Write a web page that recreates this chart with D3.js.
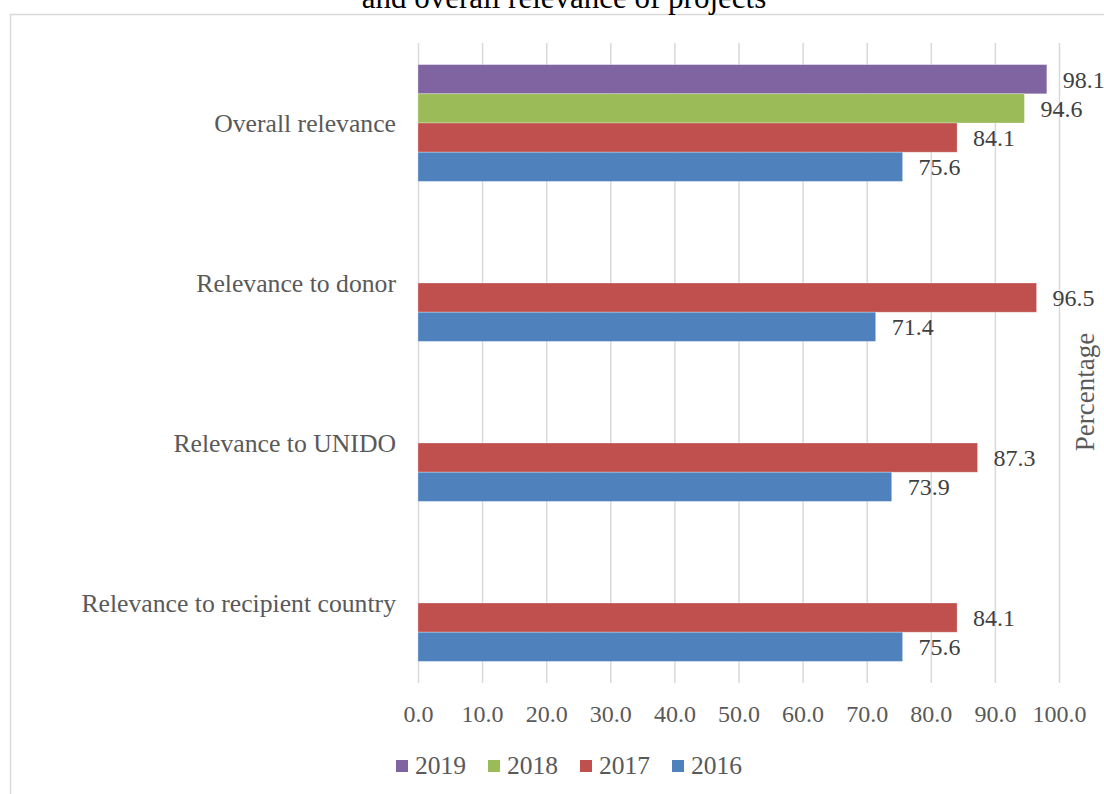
<!DOCTYPE html>
<html>
<head>
<meta charset="utf-8">
<script src="https://cdn.jsdelivr.net/npm/d3@7"></script>
<style>
  body { margin: 0; background: #fff; }
  svg { display: block; font-family: "Liberation Serif", "Times New Roman", serif; }
</style>
</head>
<body>
<div id="chart"></div>
<script>
// relevance ratings per category and year
const categories = ["Overall relevance", "Relevance to donor", "Relevance to UNIDO", "Relevance to recipient country"];
const years = ["2019", "2018", "2017", "2016"];
const values2019 = [98.1, null, null, null];
const values2018 = [94.6, null, null, null];
const values2017 = [84.1, 96.5, 87.3, 84.1];
const values2016 = [75.6, 71.4, 73.9, 75.6];
const tickValues = [0, 10, 20, 30, 40, 50, 60, 70, 80, 90, 100];
const colors = {"2019": "#8064A2", "2018": "#9BBB59", "2017": "#C0504D", "2016": "#4F81BD"};

const W = 1104, H = 794;
const plot = {left: 418, right: 1059, top: 43, bottom: 683};
const textColor = "#595959";

const seriesByYear = {"2019": values2019, "2018": values2018, "2017": values2017, "2016": values2016};

let rows = categories.map((c, i) => ({
  category: c,
  values: years.map(y => ({year: y, value: seriesByYear[y][i]}))
}));

let svg = d3.select("#chart")
  .append("svg")
  .attr("width", W)
  .attr("height", H);

// chart frame
svg.append("rect")
  .attr("x", 10.5)
  .attr("y", 14.5)
  .attr("width", W + 20)
  .attr("height", H + 20)
  .attr("fill", "none")
  .attr("stroke", "#d9d9d9")
  .attr("stroke-width", 1.5);

// title (second line, runs off the top of the frame)
svg.append("text")
  .attr("x", 564)
  .attr("y", 8)
  .attr("text-anchor", "middle")
  .style("font-size", "31px")
  .style("fill", "#000")
  .text("and overall relevance of projects");

let x = d3.scaleLinear()
  .domain([0, 100])
  .range([plot.left, plot.right]);

let y = d3.scaleBand()
  .domain(categories)
  .range([plot.top, plot.bottom])
  .paddingInner(0.27)
  .paddingOuter(0.135);

let ySub = d3.scaleBand()
  .domain(years)
  .range([0, y.bandwidth()]);

// gridlines and tick labels
let xAxis = svg.append("g")
  .attr("transform", `translate(0, ${plot.bottom})`)
  .call(d3.axisBottom(x)
    .tickValues(tickValues)
    .tickSize(-(plot.bottom - plot.top))
    .tickPadding(22)
    .tickFormat(d3.format(".1f")));

xAxis.select(".domain").remove();
xAxis.selectAll(".tick line")
  .attr("stroke", "#d9d9d9")
  .attr("stroke-width", 1.5);
xAxis.selectAll(".tick text")
  .attr("fill", textColor)
  .style("font-size", "24px")
  .style("font-family", "Liberation Serif, serif");

// category labels
svg.append("g")
  .selectAll("text")
  .data(categories)
  .enter()
  .append("text")
  .attr("x", 396)
  .attr("y", d => y(d) + y.bandwidth() / 2 + 8.5)
  .attr("text-anchor", "end")
  .style("font-size", "25.7px")
  .style("fill", textColor)
  .text(d => d);

// bars
let groups = svg.append("g")
  .selectAll("g")
  .data(rows)
  .enter()
  .append("g")
  .attr("transform", d => `translate(0, ${y(d.category)})`);

groups.selectAll("rect")
  .data(d => d.values.filter(v => v.value != null))
  .enter()
  .append("rect")
  .attr("x", x(0))
  .attr("y", d => ySub(d.year))
  .attr("width", d => x(d.value) - x(0))
  .attr("height", ySub.bandwidth())
  .attr("fill", d => colors[d.year])
  .attr("stroke", "rgba(255,255,255,0.35)")
  .attr("stroke-width", 0.8);

// value labels
groups.selectAll("text")
  .data(d => d.values.filter(v => v.value != null))
  .enter()
  .append("text")
  .attr("x", d => x(d.value) + 16)
  .attr("y", d => ySub(d.year) + ySub.bandwidth() / 2 + 8.5)
  .style("font-size", "24px")
  .style("fill", "#404040")
  .text(d => d.value.toFixed(1));

// axis title on the right
svg.append("text")
  .attr("transform", "translate(1094, 392) rotate(-90)")
  .attr("text-anchor", "middle")
  .style("font-size", "27px")
  .style("fill", textColor)
  .text("Percentage");

// legend
let legend = svg.append("g")
  .selectAll("g")
  .data(years)
  .enter()
  .append("g")
  .attr("transform", (d, i) => `translate(${396 + i * 92}, 760)`);

legend.append("rect")
  .attr("width", 12)
  .attr("height", 12)
  .attr("fill", d => colors[d]);

legend.append("text")
  .attr("x", 19)
  .attr("y", 14)
  .style("font-size", "25.5px")
  .style("fill", textColor)
  .text(d => d);
</script>
</body>
</html>
